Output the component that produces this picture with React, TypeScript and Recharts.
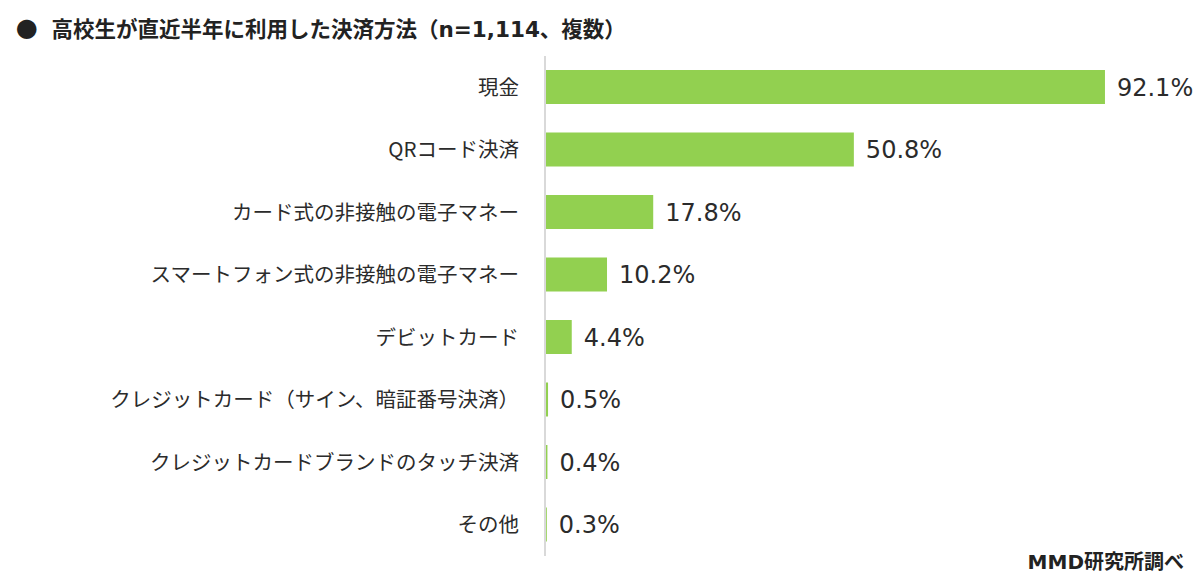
import React from 'react';
import { BarChart, Bar, XAxis, YAxis, LabelList } from 'recharts';

const categories = [
  '現金',
  'QRコード決済',
  'カード式の非接触の電子マネー',
  'スマートフォン式の非接触の電子マネー',
  'デビットカード',
  'クレジットカード（サイン、暗証番号決済）',
  'クレジットカードブランドのタッチ決済',
  'その他',
];
const values = [92.1, 50.8, 17.8, 10.2, 4.4, 0.5, 0.4, 0.3];

const data = categories.map((name, i) => ({ name, value: values[i] }));

const font = '"Noto Sans CJK JP", "Noto Sans", sans-serif';
const mixFont = '"DejaVu Sans", "Noto Sans CJK JP", sans-serif';

export default function App() {
  return (
    <div style={{ position: 'absolute', top: 0, left: 0, width: 1200, height: 587, background: '#fff', fontFamily: font }}>
      <div style={{ position: 'absolute', left: 16, top: 13, fontSize: 21.5, lineHeight: '30px', fontWeight: 700, color: '#222', whiteSpace: 'nowrap', fontFamily: mixFont }}>
        <span style={{ marginRight: 14, fontFamily: font }}>●</span>高校生が直近半年に利用した決済方法（n=1,114、複数）
      </div>
      <BarChart
        width={1200}
        height={587}
        data={data}
        layout="vertical"
        margin={{ top: 56, right: 47, bottom: 31, left: 0 }}
        barCategoryGap={14}
      >
        <XAxis type="number" domain={[0, 100]} hide />
        <YAxis
          type="category"
          dataKey="name"
          width={545}
          tickLine={false}
          tickSize={0}
          tickMargin={26}
          axisLine={{ stroke: '#d9d9d9', strokeWidth: 2 }}
          tick={{ fill: '#2b2b2b', fontSize: 20.5, fontFamily: font }}
          interval={0}
        />
        <Bar dataKey="value" fill="#92d050" barSize={34} isAnimationActive={false}>
          <LabelList
            dataKey="value"
            position="right"
            offset={12}
            formatter={(v: number) => `${v.toFixed(1)}%`}
            style={{ fill: '#2b2b2b', fontSize: 24, fontFamily: '"DejaVu Sans", sans-serif' }}
          />
        </Bar>
      </BarChart>
      <div style={{ position: 'absolute', right: 16, top: 549, fontSize: 20, lineHeight: '26px', fontWeight: 700, color: '#222', fontFamily: mixFont }}>
        MMD研究所調べ
      </div>
    </div>
  );
}
